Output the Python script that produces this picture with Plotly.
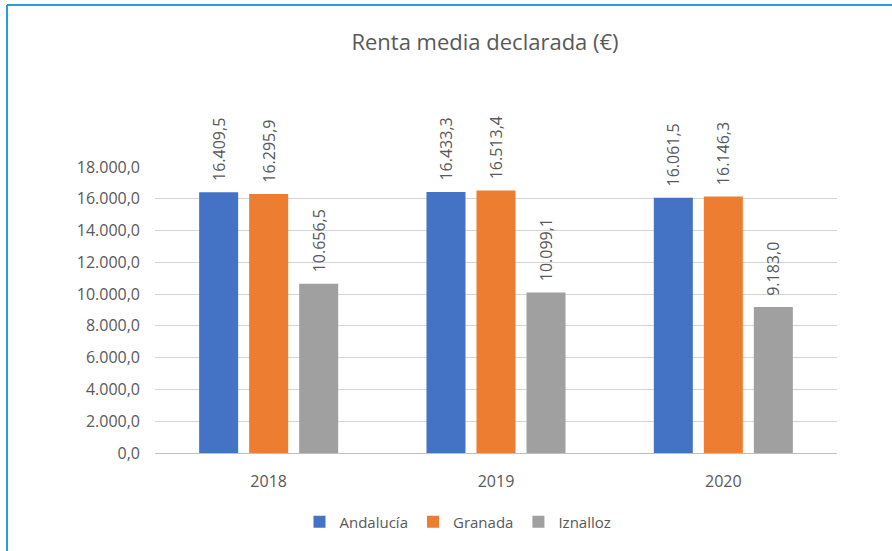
import plotly.graph_objects as go

years = ["2018", "2019", "2020"]
andalucia = [16409.5, 16433.3, 16061.5]
granada = [16295.9, 16513.4, 16146.3]
iznalloz = [10656.5, 10099.1, 9183.0]

series = [
    ("Andalucía", andalucia, "#4472c4"),
    ("Granada", granada, "#ed7d31"),
    ("Iznalloz", iznalloz, "#a0a0a0"),
]

FONT = "Open Sans"
TXT = "#595959"
NBSP = "\u00a0"


def es_fmt(v):
    s = f"{v:,.1f}"
    return s.replace(",", "X").replace(".", ",").replace("X", ".")


fig = go.Figure()
for name, vals, col in series:
    fig.add_trace(go.Bar(
        name=name, x=years, y=vals,
        marker=dict(color=col, line=dict(width=0)),
        text=[NBSP * 2 + es_fmt(v) for v in vals],
        textposition="outside", textangle=-90,
        constraintext="none",
        textfont=dict(family=FONT, size=16, color=TXT),
        cliponaxis=False,
    ))

L, R, T, B = 155, 55, 167, 98
W, H = 892, 551
pw, ph = W - L - R, H - T - B

fig.update_layout(
    width=W, height=H,
    margin=dict(l=L, r=R, t=T, b=B),
    paper_bgcolor="white", plot_bgcolor="white",
    separators=",.",
    barmode="group", bargap=0.34, bargroupgap=0.22,
    font=dict(family=FONT, color=TXT),
    title=dict(text="Renta media declarada (€)", x=485 / W, xanchor="center",
               y=1 - 42 / H, yanchor="middle",
               font=dict(family=FONT, size=22, color=TXT)),
    legend=dict(orientation="h", x=(458 - L) / pw, xanchor="center",
                y=-(522 - (T + ph)) / ph, yanchor="middle",
                font=dict(family=FONT, size=15, color=TXT),
                itemwidth=30, traceorder="normal"),
    yaxis=dict(range=[0, 18000], dtick=2000, tickformat=",.1f",
               showgrid=True, gridcolor="#d4d4d4", gridwidth=1,
               zeroline=False, showline=False,
               tickfont=dict(family=FONT, size=16, color=TXT),
               ticklabelstandoff=14),
    xaxis=dict(showline=True, linecolor="#bfbfbf", linewidth=1,
               tickfont=dict(family=FONT, size=16, color=TXT),
               ticklabelstandoff=14),
)

# outer chart frame (top and left edges)
bx = (7 - L) / pw
by = 1 + (T - 5) / ph
fig.add_shape(type="line", xref="paper", yref="paper", x0=bx, x1=(W + 10 - L) / pw,
              y0=by, y1=by, line=dict(color="#22a0dc", width=2))
fig.add_shape(type="line", xref="paper", yref="paper", x0=bx, x1=bx,
              y0=by, y1=-(H + 10 - T - ph) / ph, line=dict(color="#22a0dc", width=2))

fig.write_html("out.html")
